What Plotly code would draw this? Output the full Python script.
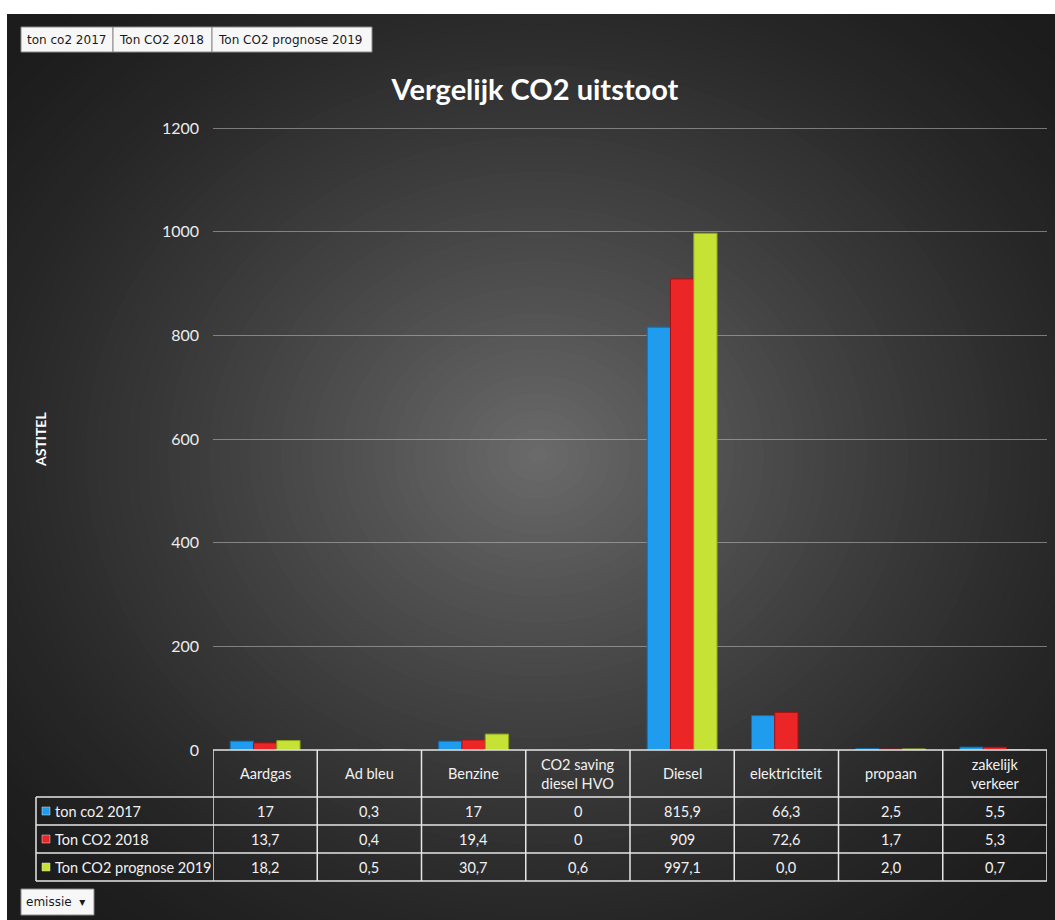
import plotly.graph_objects as go

# ---------------- data ----------------
categories = ["Aardgas", "Ad bleu", "Benzine", "CO2 saving<br>diesel HVO", "Diesel",
              "elektriciteit", "propaan", "zakelijk<br>verkeer"]
series_names = ["ton co2 2017", "Ton CO2 2018", "Ton CO2 prognose 2019"]
ton_co2_2017 = ["17", "0,3", "17", "0", "815,9", "66,3", "2,5", "5,5"]
ton_co2_2018 = ["13,7", "0,4", "19,4", "0", "909", "72,6", "1,7", "5,3"]
ton_co2_prognose_2019 = ["18,2", "0,5", "30,7", "0,6", "997,1", "0,0", "2,0", "0,7"]
y_ticks = [0, 200, 400, 600, 800, 1000, 1200]
chart_title = "Vergelijk CO2 uitstoot"
axis_title = "ASTITEL"
filter_button = "emissie"

series_values = [ton_co2_2017, ton_co2_2018, ton_co2_prognose_2019]
colors = ["#1f9cee", "#ec2626", "#c6e335"]
edge_colors = ["#0d6fb0", "#a81010", "#8da51c"]

# ---------------- geometry ----------------
W, H = 1055, 920
L, R, T, B = 213, 8, 126, 170
PW, PH = W - L - R, H - T - B
FONT = "Lato"


def px(x):
    return (x - L) / PW


def py(y):
    return (H - B - y) / PH


def num(s):
    return float(s.replace(",", "."))


fig = go.Figure()
for name, vals, c, ec in zip(series_names, series_values, colors, edge_colors):
    fig.add_trace(go.Bar(
        x=categories, y=[num(v) for v in vals], name=name,
        marker=dict(color=c, line=dict(color=ec, width=1)),
        hovertemplate="%{x}: %{y}<extra>" + name + "</extra>",
    ))

shapes = []
# dark base
shapes.append(dict(type="rect", xref="paper", yref="paper", x0=px(7), x1=px(W), y0=py(14), y1=py(H),
                   fillcolor="#1c1c1c", line=dict(width=0), layer="below"))
# radial gradient (concentric ellipses)
cx, cy = 538, 455
RX, RY = 720, 620
N = 70
for k in range(N):
    t = 1 - k / N
    v = int(28 + 80 * (1 - t) ** 1.35)
    shapes.append(dict(type="circle", xref="paper", yref="paper",
                       xsizemode="pixel", ysizemode="pixel",
                       xanchor=px(cx), yanchor=py(cy),
                       x0=-RX * t, x1=RX * t, y0=-RY * t, y1=RY * t,
                       fillcolor=f"rgb({v},{v},{v})", line=dict(width=0), layer="below"))
# white page margins
shapes.append(dict(type="rect", xref="paper", yref="paper", x0=px(0), x1=px(W), y0=py(0), y1=py(14),
                   fillcolor="white", line=dict(width=0), layer="below"))
shapes.append(dict(type="rect", xref="paper", yref="paper", x0=px(0), x1=px(7), y0=py(0), y1=py(H),
                   fillcolor="white", line=dict(width=0), layer="below"))

# ---------------- data table ----------------
line_col = "#e6e6e6"
lw = 1.5
row_tops = [750, 797, 825, 853, 881]
n = len(categories)
# horizontal lines
shapes.append(dict(type="line", xref="x", yref="paper", x0=-0.5, x1=n - 0.5, y0=py(750), y1=py(750),
                   line=dict(color=line_col, width=lw)))
for ytop in row_tops[1:]:
    shapes.append(dict(type="line", xref="paper", yref="paper", x0=px(36), x1=1, y0=py(ytop), y1=py(ytop),
                       line=dict(color=line_col, width=lw)))
# vertical lines
shapes.append(dict(type="line", xref="paper", yref="paper", x0=px(36), x1=px(36), y0=py(797), y1=py(881),
                   line=dict(color=line_col, width=lw)))
for i in range(n + 1):
    shapes.append(dict(type="line", xref="x", yref="paper", x0=i - 0.5, x1=i - 0.5, y0=py(750), y1=py(881),
                       line=dict(color=line_col, width=lw)))

annotations = []
for i, cat in enumerate(categories):
    annotations.append(dict(x=cat, xref="x", y=py(773.5), yref="paper", text=cat, showarrow=False,
                            font=dict(family=FONT, size=14.5, color="#f2f2f2"), xanchor="center", yanchor="middle"))
for j, (name, vals, c) in enumerate(zip(series_names, series_values, colors)):
    yc = row_tops[j + 1] + 14
    shapes.append(dict(type="rect", xref="paper", yref="paper", x0=px(42), x1=px(50),
                       y0=py(yc + 4), y1=py(yc - 4), fillcolor=c, line=dict(color="#dddddd", width=0.5)))
    annotations.append(dict(x=px(53), xref="paper", y=py(yc), yref="paper", text=name, showarrow=False,
                            font=dict(family=FONT, size=14.5, color="#f2f2f2"), xanchor="left", yanchor="middle"))
    for i, v in enumerate(vals):
        annotations.append(dict(x=categories[i], xref="x", y=py(yc), yref="paper", text=v, showarrow=False,
                                font=dict(family=FONT, size=14.5, color="#f2f2f2"),
                                xanchor="center", yanchor="middle"))

# y axis title
annotations.append(dict(x=px(40), xref="paper", y=py(440), yref="paper", text="<b>" + axis_title + "</b>",
                        textangle=-90, showarrow=False, font=dict(family=FONT, size=14, color="white"),
                        xanchor="center", yanchor="middle"))

# pivot field buttons (top)
btns = [(21, 113), (113, 212), (212, 372)]
for (x0, x1), name in zip(btns, series_names):
    shapes.append(dict(type="rect", xref="paper", yref="paper", x0=px(x0), x1=px(x1), y0=py(52), y1=py(27),
                       fillcolor="#f7f7f7", line=dict(color="#8a8a8a", width=1)))
    annotations.append(dict(x=px(x0 + 4), xref="paper", y=py(40), yref="paper", text=name, showarrow=False,
                            font=dict(family="DejaVu Sans", size=12, color="#1a1a1a"),
                            xanchor="left", yanchor="middle"))
# filter button (bottom)
shapes.append(dict(type="rect", xref="paper", yref="paper", x0=px(21), x1=px(94), y0=py(915), y1=py(889),
                   fillcolor="#f7f7f7", line=dict(color="#8a8a8a", width=1)))
annotations.append(dict(x=px(24), xref="paper", y=py(902), yref="paper", text=filter_button + "  \u25be",
                        showarrow=False, font=dict(family="DejaVu Sans", size=12, color="#1a1a1a"),
                        xanchor="left", yanchor="middle"))

fig.update_layout(
    width=W, height=H,
    margin=dict(l=L, r=R, t=T, b=B, pad=0),
    paper_bgcolor="white", plot_bgcolor="rgba(0,0,0,0)",
    barmode="group", bargap=0.33, bargroupgap=0,
    showlegend=False,
    title=dict(text="<b>" + chart_title + "</b>", x=535 / W, xref="container", xanchor="center",
               y=1 - 90 / H, yref="container", yanchor="middle",
               font=dict(family=FONT, size=29, color="white")),
    xaxis=dict(showticklabels=False, showgrid=False, zeroline=False, showline=False, ticks="",
               range=[-0.5, n - 0.5], fixedrange=True),
    yaxis=dict(range=[0, 1204], tickvals=y_ticks, showgrid=True, gridcolor="rgba(190,190,190,0.55)",
               gridwidth=1, zeroline=False, showline=False, ticks="", ticklabelstandoff=13,
               tickfont=dict(family=FONT, size=16, color="#ececec"), fixedrange=True),
    shapes=shapes, annotations=annotations,
)

fig.write_html("out.html", config={"displayModeBar": False},
               post_script="document.body.style.margin='0';document.body.style.overflow='hidden';")
